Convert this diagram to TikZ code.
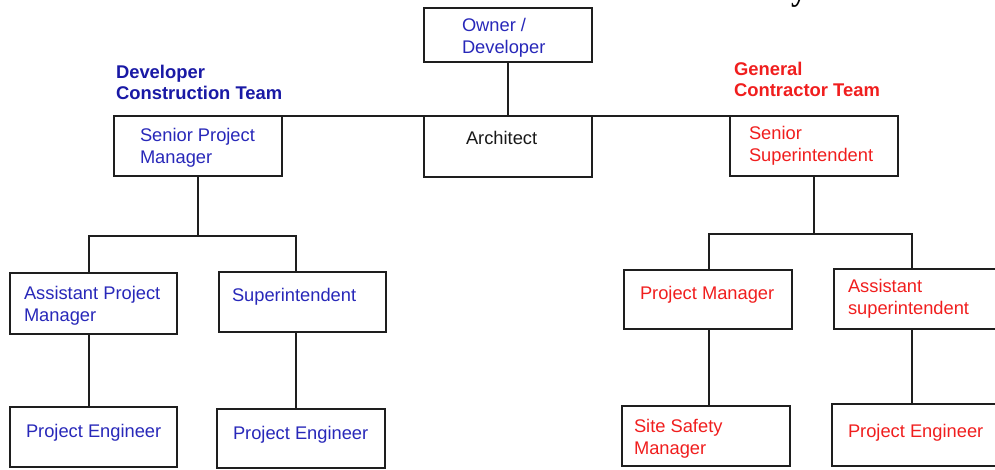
\documentclass[tikz,border=0pt]{standalone}
\usepackage{fontspec}
\setmainfont{Liberation Sans}
\newfontfamily\tnr{Liberation Serif}
\definecolor{tblue}{RGB}{40,40,185}
\definecolor{lblue}{RGB}{25,25,165}
\definecolor{tred}{RGB}{240,30,30}
\definecolor{edge}{RGB}{30,30,30}
\begin{document}
\begin{tikzpicture}[x=1pt,y=-1pt,
  box/.style={draw=edge,line width=2.4pt,inner sep=0pt,outer sep=0pt},
  conn/.style={draw=edge,line width=2.4pt},
  lbl/.style={anchor=north west,inner sep=0pt,outer sep=0pt,align=left,font=\fontsize{18.3}{22}\selectfont},
  head/.style={lbl,font=\bfseries\fontsize{18.4}{21}\selectfont}]
\useasboundingbox (0,0) rectangle (995,469);
\clip (0,0) rectangle (995,469);
% boxes
\node[box,minimum width=168pt,minimum height=54pt] (owner) at (508,35) {};
\node[box,minimum width=168pt,minimum height=60pt] (spm) at (198,146) {};
\node[box,minimum width=168pt,minimum height=61pt] (arch) at (508,146.5) {};
\node[box,minimum width=168pt,minimum height=60pt] (ss) at (814,146) {};
\node[box,minimum width=167pt,minimum height=61pt] (apm) at (93.5,303.5) {};
\node[box,minimum width=167pt,minimum height=60pt] (sup) at (302.5,302) {};
\node[box,minimum width=167pt,minimum height=60pt] (pe1) at (93.5,437) {};
\node[box,minimum width=168pt,minimum height=59pt] (pe2) at (301,438.5) {};
\node[box,minimum width=168pt,minimum height=59pt] (pm) at (708,299.5) {};
\node[box,minimum width=176pt,minimum height=60pt] (asup) at (922,299) {};
\node[box,minimum width=168pt,minimum height=60pt] (ssm) at (706,436) {};
\node[box,minimum width=178pt,minimum height=62pt] (pe3) at (921,435) {};
% texts
\node[lbl,text=tblue] (towner) at (462,15.6) {\strut Owner /\\Developer};
\node[lbl,text=tblue] (tspm) at (140,125.6) {\strut Senior Project\\Manager};
\node[lbl,text=black!90] (tarch) at (466,128.6) {\strut Architect};
\node[lbl,text=tred] (tss) at (749,123.6) {\strut Senior\\Superintendent};
\node[head,text=lblue] (tdev) at (116,63.3) {\strut Developer\\Construction Team};
\node[head,text=tred] (tgc) at (734,60.3) {\strut General\\Contractor Team};
\node[lbl,text=tblue] (tapm) at (24,283.6) {\strut Assistant Project\\Manager};
\node[lbl,text=tblue] (tsup) at (232,285.6) {\strut Superintendent};
\node[lbl,text=tblue] (tpe1) at (26,421.6) {\strut Project Engineer};
\node[lbl,text=tblue] (tpe2) at (233,423.6) {\strut Project Engineer};
\node[lbl,text=tred] (tpm) at (640,283.6) {\strut Project Manager};
\node[lbl,text=tred] (tasup) at (848,276.6) {\strut Assistant\\superintendent};
\node[lbl,text=tred] (tssm) at (634,416.6) {\strut Site Safety\\Manager};
\node[lbl,text=tred] (tpe3) at (848,421.6) {\strut Project Engineer};
\node[anchor=base west,inner sep=0pt,font={\tnr\bfseries\fontsize{32}{36}\selectfont}] (ty) at (791,0.5) {y};
% connectors
\draw[conn] (owner.south) -- (arch.north);
\draw[conn] (spm.north east) -- (ss.north west);
\coordinate (la) at (89,236);
\coordinate (lb) at (296,236);
\draw[conn] (spm.south) -- (spm.south |- la);
\draw[conn] (apm.north -| la) -- (la) -- (lb) -- (sup.north -| lb);
\draw[conn] (apm.south -| la) -- (pe1.north -| la);
\draw[conn] (sup.south -| lb) -- (pe2.north -| lb);
\coordinate (ra) at (709,234);
\coordinate (rb) at (912,234);
\draw[conn] (ss.south) -- (ss.south |- ra);
\draw[conn] (pm.north -| ra) -- (ra) -- (rb) -- (asup.north -| rb);
\draw[conn] (pm.south -| ra) -- (ssm.north -| ra);
\draw[conn] (asup.south -| rb) -- (pe3.north -| rb);
\end{tikzpicture}
\end{document}
